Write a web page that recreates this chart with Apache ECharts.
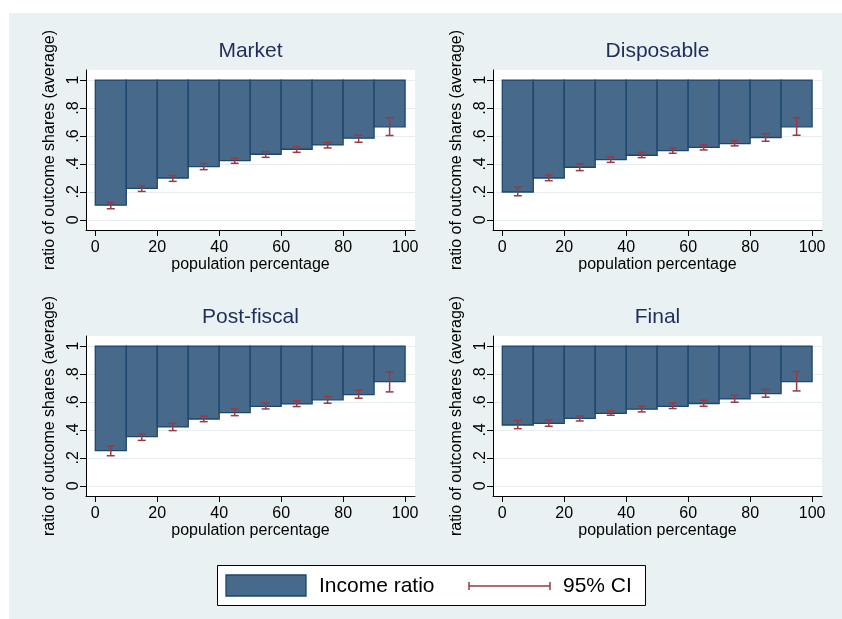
<!DOCTYPE html>
<html>
<head>
<meta charset="utf-8">
<script src="https://cdn.jsdelivr.net/npm/echarts@6/dist/echarts.min.js"></script>
<style>
  html, body { margin: 0; padding: 0; background: #ffffff; }
  #chart { width: 842px; height: 619px; }
</style>
</head>
<body>
<div id="chart"></div>
<script>
// Population deciles (percent of population)
const binStart = [0, 10, 20, 30, 40, 50, 60, 70, 80, 90];
const binEnd   = [10, 20, 30, 40, 50, 60, 70, 80, 90, 100];
const binMid   = [5, 15, 25, 35, 45, 55, 65, 75, 85, 95];
const barTop = 1;

const xTicks = [0, 20, 40, 60, 80, 100];
const yTicks = [0, 0.2, 0.4, 0.6, 0.8, 1];
const yTickLabels = ['0', '.2', '.4', '.6', '.8', '1'];

const panelTitles = ['Market', 'Disposable', 'Post-fiscal', 'Final'];

// Income ratio per decile with 95% confidence bounds
const marketRatio = [0.105, 0.225, 0.299, 0.380, 0.423, 0.469, 0.505, 0.536, 0.584, 0.665];
const marketLo    = [0.079, 0.203, 0.275, 0.359, 0.404, 0.447, 0.483, 0.514, 0.555, 0.603];
const marketHi    = [0.124, 0.244, 0.318, 0.402, 0.440, 0.488, 0.524, 0.553, 0.605, 0.730];

const disposableRatio = [0.199, 0.299, 0.376, 0.431, 0.462, 0.495, 0.519, 0.545, 0.589, 0.665];
const disposableLo    = [0.172, 0.280, 0.352, 0.411, 0.445, 0.476, 0.500, 0.529, 0.562, 0.605];
const disposableHi    = [0.234, 0.321, 0.400, 0.450, 0.483, 0.514, 0.538, 0.567, 0.615, 0.730];

const postFiscalRatio = [0.251, 0.352, 0.421, 0.478, 0.524, 0.569, 0.586, 0.615, 0.653, 0.746];
const postFiscalLo    = [0.215, 0.325, 0.395, 0.459, 0.502, 0.550, 0.567, 0.591, 0.627, 0.672];
const postFiscalHi    = [0.285, 0.371, 0.447, 0.498, 0.550, 0.593, 0.610, 0.639, 0.684, 0.816];

const finalRatio = [0.435, 0.447, 0.483, 0.519, 0.548, 0.569, 0.589, 0.622, 0.660, 0.746];
const finalLo    = [0.409, 0.426, 0.464, 0.505, 0.529, 0.553, 0.569, 0.598, 0.634, 0.679];
const finalHi    = [0.467, 0.471, 0.500, 0.538, 0.569, 0.593, 0.612, 0.648, 0.689, 0.818];

const legendLabels = ['Income ratio', '95% CI'];

const panels = [
  { ratio: marketRatio, lo: marketLo, hi: marketHi },
  { ratio: disposableRatio, lo: disposableLo, hi: disposableHi },
  { ratio: postFiscalRatio, lo: postFiscalLo, hi: postFiscalHi },
  { ratio: finalRatio, lo: finalLo, hi: finalHi }
];

const FONT = '"Liberation Sans", Arial, sans-serif';
const BAR_FILL = '#476a8b';
const BAR_EDGE = '#1c466d';
const CI_COLOR = '#973a41';
const BG = '#e9f1f3';
const TITLE_COLOR = '#1e2d5a';

// Panel frames (plot regions)
const frames = [
  { left: 86, top: 70 },
  { left: 493, top: 70 },
  { left: 86, top: 336 },
  { left: 493, top: 336 }
];
const PW = 329, PH = 160;

const grids = [], xAxes = [], yAxes = [], series = [], graphics = [];

graphics.push({
  type: 'rect', silent: true, z: -10,
  shape: { x: 9, y: 13, width: 842 - 9, height: 619 - 13 },
  style: { fill: BG }
});

panels.forEach((p, i) => {
  const f = frames[i];
  grids.push({
    left: f.left, top: f.top, width: PW, height: PH,
    show: true, backgroundColor: '#ffffff', borderWidth: 0
  });
  xAxes.push({
    type: 'value', gridIndex: i, min: -3, max: 103.2,
    name: 'population percentage', nameLocation: 'middle', nameGap: 26,
    nameTextStyle: { fontFamily: FONT, fontSize: 16, color: '#000' },
    axisLine: { show: true, onZero: false, lineStyle: { color: '#000', width: 1 } },
    axisTick: { show: true, inside: false, length: 6, customValues: xTicks, lineStyle: { color: '#000' } },
    axisLabel: { customValues: xTicks, margin: 10, fontFamily: FONT, fontSize: 16, color: '#000' },
    splitLine: { show: false }
  });
  yAxes.push({
    type: 'value', gridIndex: i, min: -0.073, max: 1.072,
    name: 'ratio of outcome shares (average)', nameLocation: 'middle', nameGap: 28, nameRotate: 90,
    nameTextStyle: { fontFamily: FONT, fontSize: 16, color: '#000' },
    axisLine: { show: true, onZero: false, lineStyle: { color: '#000', width: 1 } },
    axisTick: { show: true, inside: false, length: 6, customValues: yTicks, lineStyle: { color: '#000' } },
    axisLabel: {
      customValues: yTicks, rotate: 90, margin: 4, fontFamily: FONT, fontSize: 16, color: '#000',
      formatter: v => yTickLabels[yTicks.findIndex(t => Math.abs(t - v) < 1e-9)]
    },
    splitLine: { show: true, lineStyle: { color: '#e6eef1', width: 1 } }
  });

  // Bars span from each decile's ratio up to the reference level
  series.push({
    type: 'custom', name: legendLabels[0], xAxisIndex: i, yAxisIndex: i, z: 2,
    data: binStart.map((s, k) => [s, binEnd[k], p.ratio[k], barTop]),
    encode: { x: [0, 1], y: [2, 3] },
    renderItem: (params, api) => {
      const a = api.coord([api.value(0), api.value(3)]);
      const b = api.coord([api.value(1), api.value(2)]);
      return {
        type: 'rect',
        shape: { x: a[0], y: a[1], width: b[0] - a[0], height: b[1] - a[1] },
        style: { fill: BAR_FILL, stroke: BAR_EDGE, lineWidth: 1.3 }
      };
    }
  });

  // Confidence interval whiskers at decile midpoints
  series.push({
    type: 'custom', name: legendLabels[1], xAxisIndex: i, yAxisIndex: i, z: 3,
    data: binMid.map((m, k) => [m, p.lo[k], p.hi[k]]),
    encode: { x: 0, y: [1, 2] },
    renderItem: (params, api) => {
      const lo = api.coord([api.value(0), api.value(1)]);
      const hi = api.coord([api.value(0), api.value(2)]);
      const cap = 4;
      const st = { stroke: CI_COLOR, lineWidth: 1.5 };
      return {
        type: 'group',
        children: [
          { type: 'line', shape: { x1: lo[0], y1: lo[1], x2: hi[0], y2: hi[1] }, style: st },
          { type: 'line', shape: { x1: lo[0] - cap, y1: lo[1], x2: lo[0] + cap, y2: lo[1] }, style: st },
          { type: 'line', shape: { x1: hi[0] - cap, y1: hi[1], x2: hi[0] + cap, y2: hi[1] }, style: st }
        ]
      };
    }
  });

  // Panel title
  graphics.push({
    type: 'text', silent: true,
    x: f.left + PW / 2, y: f.top - 8,
    style: {
      text: panelTitles[i], fill: TITLE_COLOR, font: '21px ' + FONT,
      textAlign: 'center', textVerticalAlign: 'bottom'
    }
  });
});

// Legend box
graphics.push(
  { type: 'rect', silent: true, shape: { x: 217.5, y: 565.5, width: 428, height: 40 },
    style: { fill: '#ffffff', stroke: '#000', lineWidth: 1 } },
  { type: 'rect', silent: true, shape: { x: 226, y: 575, width: 80, height: 21 },
    style: { fill: BAR_FILL, stroke: BAR_EDGE, lineWidth: 1.3 } },
  { type: 'text', silent: true, x: 319, y: 586,
    style: { text: legendLabels[0], fill: '#000', font: '21px ' + FONT, textVerticalAlign: 'middle' } },
  { type: 'line', silent: true, shape: { x1: 469, y1: 586, x2: 550, y2: 586 },
    style: { stroke: CI_COLOR, lineWidth: 1.5 } },
  { type: 'line', silent: true, shape: { x1: 469, y1: 582, x2: 469, y2: 590 },
    style: { stroke: CI_COLOR, lineWidth: 1.5 } },
  { type: 'line', silent: true, shape: { x1: 550, y1: 582, x2: 550, y2: 590 },
    style: { stroke: CI_COLOR, lineWidth: 1.5 } },
  { type: 'text', silent: true, x: 563, y: 586,
    style: { text: legendLabels[1], fill: '#000', font: '21px ' + FONT, textVerticalAlign: 'middle' } }
);

const chart = echarts.init(document.getElementById('chart'), null, { renderer: 'canvas' });
chart.setOption({
  animation: false,
  backgroundColor: '#ffffff',
  grid: grids,
  xAxis: xAxes,
  yAxis: yAxes,
  series: series,
  graphic: graphics
});
</script>
</body>
</html>
